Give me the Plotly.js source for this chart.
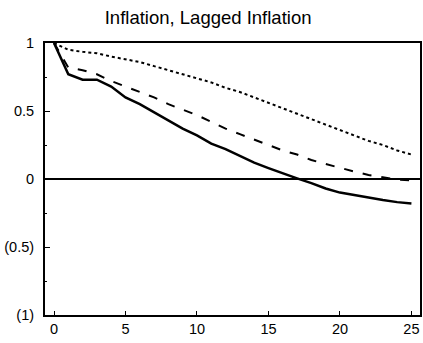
<!DOCTYPE html>
<html><head><meta charset="utf-8">
<script src="https://cdn.plot.ly/plotly-3.0.1.min.js"></script>
<style>html,body{margin:0;padding:0;background:#fff}#c{width:423px;height:343px}</style>
</head><body><div id="c"></div>
<script>
const horizon = [0,1,2,3,4,5,6,7,8,9,10,11,12,13,14,15,16,17,18,19,20,21,22,23,24,25];
const inflation = [1,0.77,0.73,0.73,0.68,0.6,0.55,0.49,0.43,0.37,0.32,0.26,0.22,0.17,0.12,0.08,0.04,0.005,-0.03,-0.07,-0.10,-0.12,-0.14,-0.155,-0.17,-0.18];
const laggedA = [1,0.82,0.80,0.77,0.72,0.68,0.64,0.60,0.55,0.51,0.47,0.42,0.37,0.33,0.29,0.25,0.21,0.18,0.14,0.11,0.08,0.055,0.03,0.01,-0.005,-0.01];
const laggedB = [1,0.95,0.935,0.925,0.90,0.88,0.86,0.83,0.80,0.77,0.745,0.71,0.67,0.64,0.60,0.56,0.52,0.48,0.44,0.40,0.36,0.32,0.28,0.25,0.21,0.18];
const yTickVals = [-1,-0.5,0,0.5,1];
const yTickText = ['(1)','(0.5)','0','0.5','1'];
const xTickVals = [0,5,10,15,20,25];

const traces = [
  {x: horizon, y: laggedB, mode:'lines', line:{color:'#000', width:2, dash:'dot'}},
  {x: horizon, y: laggedA, mode:'lines', line:{color:'#000', width:2, dash:'9px,10px'}},
  {x: horizon, y: inflation, mode:'lines', line:{color:'#000', width:2.5}}
];
const layout = {
  width:423, height:343,
  margin:{l:45, r:3, t:43, b:28},
  paper_bgcolor:'#fff', plot_bgcolor:'#fff',
  showlegend:false,
  font:{family:'Liberation Sans, Arial, sans-serif', color:'#000', size:14},
  title:{text:'Inflation, Lagged Inflation', x:0.492, xanchor:'center', y:0.95, yanchor:'middle', font:{size:18.5, color:'#000'}},
  xaxis:{range:[-0.63,25.6], tickvals:xTickVals, ticks:'inside', ticklen:4, tickcolor:'#000',
    showline:true, linecolor:'#000', linewidth:2, mirror:true, showgrid:false, zeroline:false,
    tickfont:{size:14.5}},
  yaxis:{range:[-1,1], tickvals:yTickVals, ticktext:yTickText, ticks:'inside', ticklen:5, tickcolor:'#000',
    showline:true, linecolor:'#000', linewidth:2, mirror:true, showgrid:false,
    zeroline:true, zerolinecolor:'#000', zerolinewidth:2.5, ticklabelstandoff:6,
    minor:{dtick:0.25, ticks:'inside', ticklen:2, tickcolor:'#000'},
    tickfont:{size:14.5}}
};
Plotly.newPlot('c', traces, layout, {staticPlot:true});
</script></body></html>
